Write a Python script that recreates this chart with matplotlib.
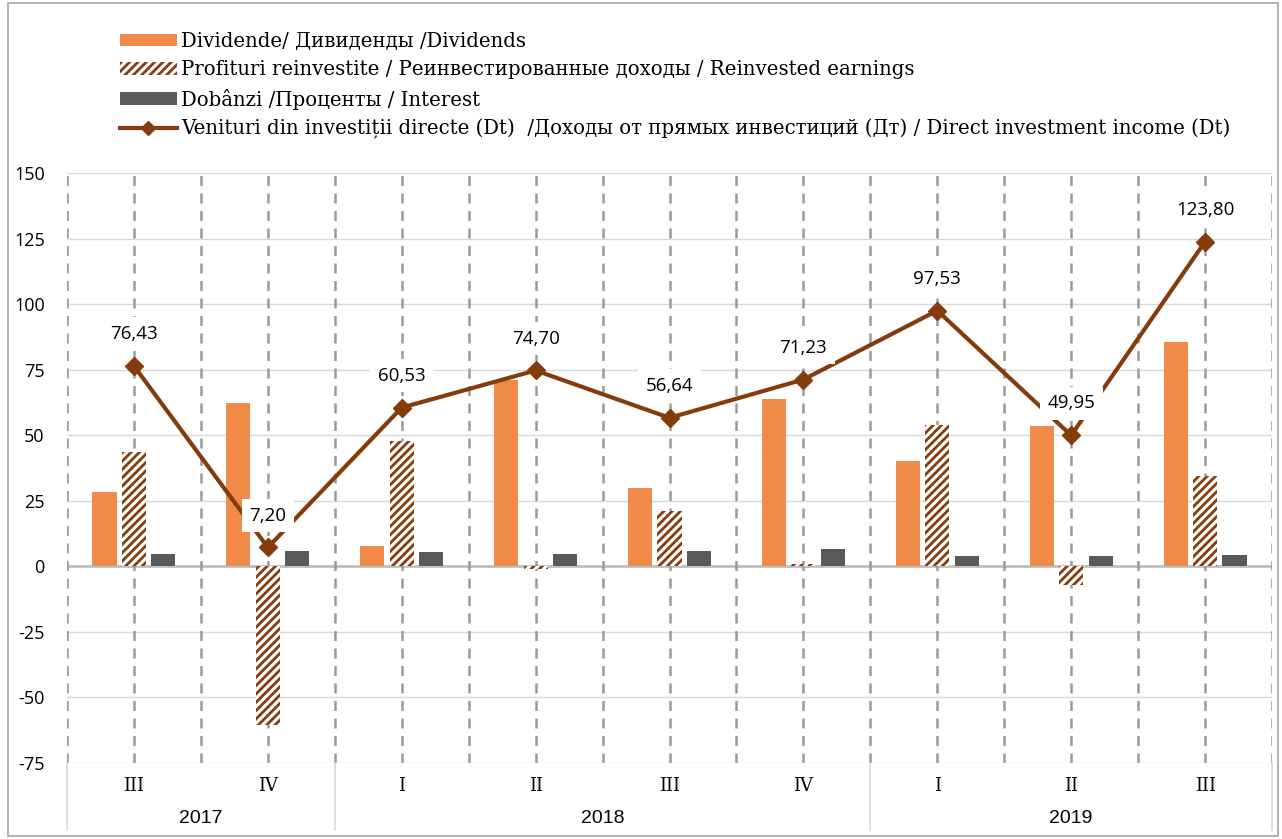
#!/usr/bin/env python3
"""Direct investment income (Dt) by component, quarterly 2017-2019."""
import matplotlib
matplotlib.use("Agg")
import matplotlib.pyplot as plt
import matplotlib.transforms as mtransforms
from matplotlib.patches import Patch, Rectangle
from matplotlib.lines import Line2D

quarters = ["III", "IV", "I", "II", "III", "IV", "I", "II", "III"]
years = ["2017", "2018", "2019"]
year_spans = [(0, 1), (2, 5), (6, 8)]

dividends = [28.2, 62.2, 7.6, 71.1, 29.7, 63.7, 40.0, 53.4, 85.4]
reinvested = [43.5, -60.6, 47.7, -1.0, 21.0, 1.0, 53.8, -7.2, 34.3]
interest = [4.6, 5.7, 5.3, 4.6, 5.7, 6.5, 3.8, 3.8, 4.2]
total = [76.43, 7.20, 60.53, 74.70, 56.64, 71.23, 97.53, 49.95, 123.80]

legend_labels = [
    "Dividende/ Дивиденды /Dividends",
    "Profituri reinvestite / Реинвестированные доходы / Reinvested earnings",
    "Dobânzi /Проценты / Interest",
    "Venituri din investiții directe (Dt)  /Доходы от прямых инвестиций (Дт) / Direct investment income (Dt)",
]

ORANGE = "#F08A48"
BROWN = "#843C0C"
GREY = "#595959"

plt.rcParams["hatch.linewidth"] = 2.0

fig = plt.figure(figsize=(12.82, 8.39), dpi=100)
ax = fig.add_axes([67 / 1282, 76 / 839, 1205 / 1282, 590 / 839])

x = list(range(len(quarters)))
w = 0.18
off = 0.22

# grid
for yv in range(-75, 151, 25):
    ax.axhline(yv, color="#D9D9D9", lw=1, zorder=0)
ax.axhline(0, color="#BFBFBF", lw=2, zorder=1)
for k in range(2 * len(quarters) + 1):
    ax.axvline(-0.5 + k * 0.5, color="#9A9A9A", lw=1.8, ls=(0, (4, 3)), zorder=1)

ax.bar([i - off for i in x], dividends, w, color=ORANGE, zorder=2)
ax.bar(x, reinvested, w, facecolor="white", edgecolor=BROWN, hatch="////", lw=0, zorder=2)
ax.bar([i + off for i in x], interest, w, color=GREY, zorder=2)
ax.plot(x, total, color=BROWN, lw=3, marker="D", markersize=9, zorder=4)

for i, v in enumerate(total):
    ax.annotate(f"{v:.2f}".replace(".", ","), (i, v), xytext=(0, 23),
                textcoords="offset points", ha="center", va="center",
                fontsize=13.5, family="Open Sans", zorder=5,
                bbox=dict(boxstyle="square,pad=0.4", fc="white", ec="none"))

ax.set_xlim(-0.5, len(quarters) - 0.5)
ax.set_ylim(-75, 150)
ax.set_yticks(range(-75, 151, 25))
ax.set_yticklabels([str(v) for v in range(-75, 151, 25)], family="Open Sans", fontsize=13)
ax.tick_params(axis="y", length=0, pad=16)
ax.set_xticks(x)
ax.set_xticklabels(quarters, family="DejaVu Serif", fontsize=13)
ax.tick_params(axis="x", length=0, pad=10)
for s in ax.spines.values():
    s.set_visible(False)

# second level of the category axis
trans = mtransforms.blended_transform_factory(ax.transData, ax.transAxes)
for b in [-0.5, 1.5, 5.5, len(quarters) - 0.5]:
    ax.plot([b, b], [0, -0.113], color="#D9D9D9", lw=1.2, transform=trans, clip_on=False)
for yr, (a, b) in zip(years, year_spans):
    ax.text((a + b) / 2, -0.094, yr, transform=trans, ha="center", va="center",
            family="Liberation Sans", fontsize=14)

handles = [
    Patch(facecolor=ORANGE, edgecolor="none"),
    Patch(facecolor="white", edgecolor=BROWN, hatch="////", lw=0),
    Patch(facecolor=GREY, edgecolor="none"),
    Line2D([], [], color=BROWN, lw=3, marker="D", markersize=7),
]
fig.legend(handles, legend_labels, loc="upper left", bbox_to_anchor=(102 / 1282, 1 - 14 / 839),
           frameon=False, prop={"family": "DejaVu Serif", "size": 14.2},
           handlelength=2.9, handleheight=0.6, handletextpad=0.2, labelspacing=0.48)

fig.patches.append(Rectangle((8 / 1282, 3 / 839), 1270 / 1282, 833 / 839, transform=fig.transFigure,
                             fill=False, ec="#A6A6A6", lw=1.2))

fig.savefig("out.png", dpi=100)
